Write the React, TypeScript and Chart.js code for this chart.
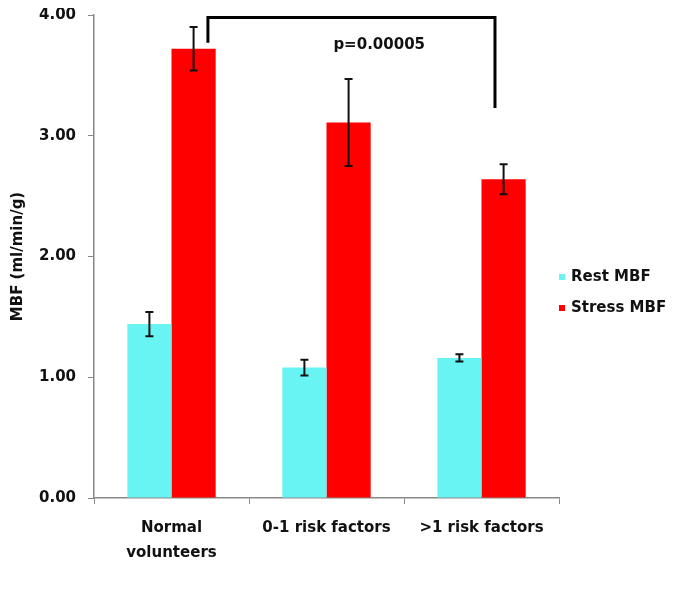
import React, { useEffect, useRef } from 'react';
import { Chart, registerables } from 'chart.js';

Chart.register(...registerables);

// ---- data ----
const categories: (string | string[])[] = [['Normal', 'volunteers'], '0-1 risk factors', '>1 risk factors'];
const seriesLabels = ['Rest MBF', 'Stress MBF'];
const restMBF = [1.44, 1.08, 1.16];
const restErr = [0.1, 0.065, 0.03];
const stressMBF = [3.72, 3.11, 2.64];
const stressErr = [0.18, 0.36, 0.125];
const yTickValues = [0, 1, 2, 3, 4];
const yTitle = 'MBF (ml/min/g)';
const pLabel = 'p=0.00005';
const bracketYValues = [3.77, 3.98, 3.23]; // left end, top bar, right end
const pLabelY = 3.75;

const FONT = 'DejaVu Sans';
const restColor = '#69F4F4';
const stressColor = '#FF0000';

const errorBarPlugin = {
  id: 'errorBars',
  afterDatasetsDraw(chart: any) {
    const { ctx } = chart;
    const y = chart.scales.y;
    chart.data.datasets.forEach((ds: any, di: number) => {
      const meta = chart.getDatasetMeta(di);
      meta.data.forEach((bar: any, i: number) => {
        const v = ds.data[i];
        const e = ds.errors[i];
        const yTop = y.getPixelForValue(v + e);
        const yBot = y.getPixelForValue(v - e);
        ctx.save();
        ctx.strokeStyle = '#111';
        ctx.lineWidth = 2;
        ctx.beginPath();
        ctx.moveTo(bar.x, yTop);
        ctx.lineTo(bar.x, yBot);
        ctx.moveTo(bar.x - 4, yTop);
        ctx.lineTo(bar.x + 4, yTop);
        ctx.moveTo(bar.x - 4, yBot);
        ctx.lineTo(bar.x + 4, yBot);
        ctx.stroke();
        ctx.restore();
      });
    });
  },
};

const bracketPlugin = {
  id: 'bracket',
  afterDraw(chart: any) {
    const { ctx } = chart;
    const x = chart.scales.x;
    const y = chart.scales.y;
    const catW = x.getPixelForValue(1) - x.getPixelForValue(0);
    const xl = x.getPixelForValue(0) + 0.235 * catW;
    const xr = x.getPixelForValue(2) + 0.087 * catW;
    ctx.save();
    ctx.strokeStyle = '#000';
    ctx.lineWidth = 3;
    ctx.lineJoin = 'miter';
    ctx.beginPath();
    ctx.moveTo(xl, y.getPixelForValue(bracketYValues[0]));
    ctx.lineTo(xl, y.getPixelForValue(bracketYValues[1]));
    ctx.lineTo(xr, y.getPixelForValue(bracketYValues[1]));
    ctx.lineTo(xr, y.getPixelForValue(bracketYValues[2]));
    ctx.stroke();
    ctx.fillStyle = '#111';
    ctx.font = `bold 15px "${FONT}"`;
    ctx.textAlign = 'center';
    ctx.textBaseline = 'middle';
    ctx.fillText(pLabel, x.getPixelForValue(1) + 0.34 * catW, y.getPixelForValue(pLabelY));
    ctx.restore();
  },
};

const legendPlugin = {
  id: 'sideLegend',
  afterDraw(chart: any) {
    const { ctx, chartArea } = chart;
    const x0 = chartArea.right;
    const startY = chartArea.top + 0.5425 * (chartArea.bottom - chartArea.top);
    ctx.save();
    ctx.font = `bold 15px "${FONT}"`;
    ctx.textBaseline = 'middle';
    ctx.textAlign = 'left';
    chart.data.datasets.forEach((ds: any, i: number) => {
      const cy = startY + i * 31;
      ctx.fillStyle = ds.backgroundColor;
      ctx.fillRect(x0, cy - 3, 6, 6);
      ctx.fillStyle = '#111';
      ctx.fillText(ds.label, x0 + 12, cy);
    });
    ctx.restore();
  },
};

export default function App() {
  const ref = useRef<HTMLCanvasElement>(null);
  useEffect(() => {
    if (!ref.current) return;
    const chart = new Chart(ref.current, {
      type: 'bar',
      data: {
        labels: categories,
        datasets: [
          { label: seriesLabels[0], data: restMBF, errors: restErr, backgroundColor: restColor, borderWidth: 0 } as any,
          { label: seriesLabels[1], data: stressMBF, errors: stressErr, backgroundColor: stressColor, borderWidth: 0 } as any,
        ],
      },
      options: {
        animation: false,
        responsive: true,
        maintainAspectRatio: false,
        layout: { padding: { top: 7, right: 118, left: 0, bottom: 0 } },
        datasets: { bar: { categoryPercentage: 0.57, barPercentage: 1 } },
        plugins: {
          legend: { display: false },
          tooltip: { enabled: false },
        },
        scales: {
          x: {
            grid: { display: true, drawOnChartArea: false, tickLength: 6, color: '#888', offset: true },
            border: { display: true, color: '#888', width: 1.5 },
            ticks: {
              color: '#111',
              padding: 11,
              maxRotation: 0,
              autoSkip: false,
              font: { family: FONT, weight: 'bold', size: 15, lineHeight: 1.7 },
            },
            afterFit(scale: any) {
              scale.height = 83;
            },
          },
          y: {
            min: 0,
            max: 4,
            afterBuildTicks(scale: any) {
              scale.ticks = yTickValues.map((v) => ({ value: v }));
            },
            grid: { display: true, drawOnChartArea: false, tickLength: 6, color: '#888' },
            border: { display: true, color: '#888', width: 1.5 },
            ticks: {
              color: '#111',
              padding: 12,
              font: { family: FONT, weight: 'bold', size: 15, lineHeight: 1 },
              callback: (v: any) => Number(v).toFixed(2),
            },
            title: {
              display: true,
              text: yTitle,
              color: '#111',
              padding: { top: 1, bottom: 0 },
              font: { family: FONT, weight: 'bold', size: 15 },
            },
            afterFit(scale: any) {
              scale.width = 86;
              scale.paddingTop = 0;
              scale.paddingBottom = 0;
            },
          },
        },
      },
      plugins: [errorBarPlugin, bracketPlugin, legendPlugin],
    });
    return () => chart.destroy();
  }, []);
  return (
    <div style={{ width: 669, height: 573, position: 'relative' }}>
      <canvas ref={ref} />
    </div>
  );
}
